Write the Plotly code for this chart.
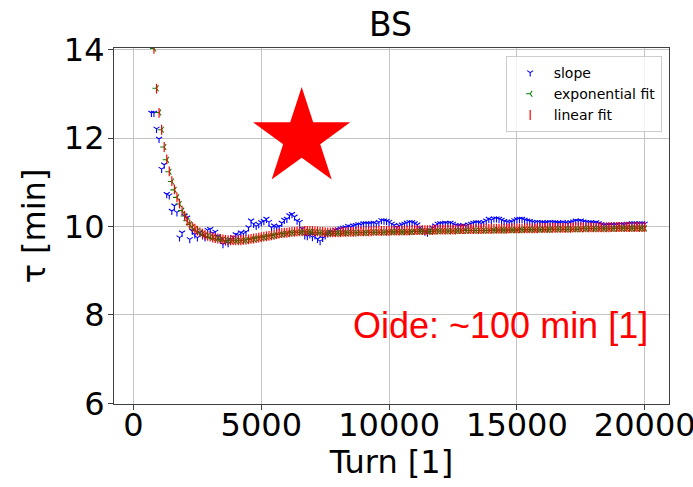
import plotly.graph_objects as go

# Turn numbers of the samples
turns_slope = list(range(700, 20001, 100))
turns_fit = list(range(800, 20001, 100))

# Damping time from the local slope [min]
tau_slope = [
    12.57, 12.57, 12.21, 11.98, 11.30, 11.40, 10.73, 10.70, 10.35, 10.47,
    10.32, 9.75, 9.86, 10.24, 10.20, 9.71, 9.90, 9.82, 9.75, 9.86,
    9.80, 9.75, 9.92, 9.94, 9.85, 9.88, 9.78, 9.70, 9.60, 9.66,
    9.62, 9.70, 9.76, 9.82, 9.80, 9.86, 9.84, 9.88, 9.98, 10.13,
    10.06, 10.01, 10.05, 10.09, 10.12, 10.17, 10.10, 9.98, 10.02, 9.98,
    10.00, 10.08, 10.15, 10.17, 10.25, 10.28, 10.22, 10.13, 10.10, 9.95,
    9.80, 9.78, 9.82, 9.76, 9.80, 9.72, 9.67, 9.74, 9.80, 9.84,
    9.88, 9.87, 9.92, 9.93, 9.95, 9.97, 9.98, 10.01, 9.99, 10.02,
    10.03, 10.05, 10.04, 10.07, 10.07, 10.06, 10.07, 10.08, 10.06, 10.10,
    10.14, 10.13, 10.12, 10.10, 10.06, 10.03, 9.98, 10.02, 10.04, 10.06,
    10.08, 10.10, 10.09, 10.07, 10.04, 9.97, 9.92, 9.88, 9.86, 9.92,
    9.97, 10.02, 10.06, 10.07, 10.07, 10.08, 10.07, 10.08, 10.06, 10.03,
    10.02, 10.01, 10.03, 10.01, 10.04, 10.06, 10.08, 10.09, 10.09, 10.07,
    10.10, 10.13, 10.17, 10.15, 10.18, 10.18, 10.17, 10.15, 10.12, 10.10,
    10.09, 10.11, 10.14, 10.16, 10.17, 10.17, 10.15, 10.13, 10.12, 10.10,
    10.09, 10.10, 10.09, 10.09, 10.08, 10.09, 10.10, 10.09, 10.09, 10.08,
    10.08, 10.10, 10.08, 10.07, 10.09, 10.11, 10.13, 10.12, 10.13, 10.11,
    10.10, 10.09, 10.09, 10.08, 10.09, 10.07, 10.05, 10.03, 10.03, 10.04,
    10.04, 10.03, 10.04, 10.05, 10.05, 10.04, 10.06, 10.06, 10.07, 10.07,
    10.05, 10.07, 10.07, 10.06,
]

# Damping time from the exponential fit [min]
tau_exp = [
    14.03, 13.13, 12.58, 12.19, 11.80, 11.51, 11.24, 11.02, 10.83, 10.66,
    10.51, 10.36, 10.24, 10.13, 10.05, 9.99, 9.94, 9.90, 9.86, 9.83,
    9.80, 9.78, 9.76, 9.74, 9.73, 9.72, 9.71, 9.70, 9.69, 9.68,
    9.68, 9.68, 9.68, 9.68, 9.68, 9.69, 9.69, 9.70, 9.71, 9.72,
    9.73, 9.74, 9.75, 9.76, 9.77, 9.78, 9.79, 9.80, 9.81, 9.82,
    9.83, 9.84, 9.84, 9.85, 9.86, 9.86, 9.87, 9.87, 9.87, 9.88,
    9.88, 9.88, 9.88, 9.87, 9.87, 9.86, 9.86, 9.85, 9.85, 9.85,
    9.85, 9.85, 9.85, 9.85, 9.85, 9.85, 9.86, 9.86, 9.86, 9.86,
    9.86, 9.86, 9.86, 9.86, 9.87, 9.87, 9.87, 9.87, 9.87, 9.87,
    9.87, 9.87, 9.88, 9.88, 9.88, 9.88, 9.88, 9.88, 9.88, 9.88,
    9.88, 9.88, 9.89, 9.89, 9.89, 9.89, 9.89, 9.89, 9.89, 9.89,
    9.89, 9.90, 9.90, 9.90, 9.90, 9.90, 9.90, 9.90, 9.90, 9.90,
    9.90, 9.90, 9.91, 9.91, 9.91, 9.91, 9.91, 9.91, 9.91, 9.91,
    9.91, 9.91, 9.91, 9.92, 9.92, 9.92, 9.92, 9.92, 9.92, 9.92,
    9.92, 9.92, 9.92, 9.92, 9.93, 9.93, 9.93, 9.93, 9.93, 9.93,
    9.93, 9.93, 9.93, 9.93, 9.93, 9.93, 9.94, 9.94, 9.94, 9.94,
    9.94, 9.94, 9.94, 9.94, 9.94, 9.94, 9.94, 9.94, 9.95, 9.95,
    9.95, 9.95, 9.95, 9.95, 9.95, 9.95, 9.95, 9.95, 9.95, 9.95,
    9.95, 9.96, 9.96, 9.96, 9.96, 9.96, 9.96, 9.96, 9.96, 9.96,
    9.96, 9.96, 9.96,
]

# Damping time from the linear fit [min]
tau_lin = [
    14.02, 13.12, 12.57, 12.19, 11.80, 11.52, 11.25, 11.03, 10.84, 10.66,
    10.52, 10.36, 10.24, 10.13, 10.05, 9.99, 9.95, 9.91, 9.87, 9.84,
    9.81, 9.79, 9.77, 9.75, 9.74, 9.73, 9.72, 9.71, 9.70, 9.69,
    9.69, 9.69, 9.69, 9.69, 9.69, 9.70, 9.70, 9.71, 9.72, 9.73,
    9.74, 9.75, 9.76, 9.77, 9.78, 9.79, 9.80, 9.81, 9.83, 9.84,
    9.85, 9.86, 9.86, 9.87, 9.88, 9.88, 9.89, 9.89, 9.89, 9.90,
    9.90, 9.90, 9.90, 9.89, 9.89, 9.88, 9.88, 9.87, 9.87, 9.87,
    9.87, 9.87, 9.87, 9.87, 9.88, 9.88, 9.88, 9.88, 9.88, 9.88,
    9.89, 9.89, 9.89, 9.89, 9.89, 9.89, 9.90, 9.90, 9.90, 9.90,
    9.90, 9.90, 9.90, 9.91, 9.91, 9.91, 9.91, 9.91, 9.91, 9.91,
    9.91, 9.92, 9.92, 9.92, 9.92, 9.92, 9.92, 9.92, 9.92, 9.92,
    9.93, 9.93, 9.93, 9.93, 9.93, 9.93, 9.93, 9.93, 9.93, 9.94,
    9.94, 9.94, 9.94, 9.94, 9.94, 9.94, 9.94, 9.94, 9.94, 9.95,
    9.95, 9.95, 9.95, 9.95, 9.95, 9.95, 9.95, 9.95, 9.95, 9.96,
    9.96, 9.96, 9.96, 9.96, 9.96, 9.96, 9.96, 9.96, 9.96, 9.96,
    9.96, 9.97, 9.97, 9.97, 9.97, 9.97, 9.97, 9.97, 9.97, 9.97,
    9.97, 9.97, 9.97, 9.97, 9.98, 9.98, 9.98, 9.98, 9.98, 9.98,
    9.98, 9.98, 9.98, 9.98, 9.98, 9.98, 9.98, 9.98, 9.98, 9.99,
    9.99, 9.99, 9.99, 9.99, 9.99, 9.99, 9.99, 9.99, 9.99, 9.99,
    9.99, 9.99, 9.99,
]

# Highlight marker and reference note
star_x = [6580]
star_y = [12.0]
note_text = "Oide: ~100 min [1]"
note_x = 14340
note_y = 7.76

x_ticks = [0, 5000, 10000, 15000, 20000]
x_tick_text = ["0", "5000", "10000", "15000", "20000"]
y_ticks = [6, 8, 10, 12, 14]
y_tick_text = ["6", "8", "10", "12", "14"]

fig = go.Figure()

fig.add_trace(go.Scatter(
    x=turns_slope, y=tau_slope, mode="markers", name="slope",
    marker=dict(symbol="y-down", size=5, color="blue",
                line=dict(color="blue", width=1.1)),
))
fig.add_trace(go.Scatter(
    x=turns_fit, y=tau_exp, mode="markers", name="exponential fit",
    marker=dict(symbol="y-left", size=5, color="green",
                line=dict(color="green", width=1.1)),
))
fig.add_trace(go.Scatter(
    x=turns_fit, y=tau_lin, mode="markers", name="linear fit",
    marker=dict(symbol="line-ns", size=7, color="red",
                line=dict(color="red", width=1.2)),
))
fig.add_trace(go.Scatter(
    x=star_x, y=star_y, mode="markers", showlegend=False,
    marker=dict(symbol="star", size=73, color="red", line=dict(width=0)),
))

fig.add_annotation(
    x=note_x, y=note_y, xref="x", yref="y", text=note_text, showarrow=False,
    xanchor="center", yanchor="middle",
    font=dict(family="Liberation Sans", size=36, color="red"),
)

axis_common = dict(
    showgrid=True, gridcolor="#c4c4c4", gridwidth=1.2,
    showline=True, linecolor="#404040", linewidth=1.2, mirror=True,
    ticks="outside", ticklen=5, tickwidth=1.2, tickcolor="#404040",
    tickfont=dict(family="DejaVu Sans", size=32, color="black"),
    zeroline=False, automargin=False, ticklabeloverflow="allow",
)

fig.update_layout(
    width=693, height=487,
    margin=dict(l=114, r=24, t=48, b=83),
    paper_bgcolor="white", plot_bgcolor="white",
    title=dict(text="BS", x=0.5635, xanchor="center", y=1 - 24.5 / 487,
               yanchor="middle",
               font=dict(family="DejaVu Sans", size=33, color="black")),
    xaxis=dict(range=[-763, 20950], tickvals=x_ticks, ticktext=x_tick_text,
               ticklabelstandoff=-13,
               title=dict(text="Turn [1]", standoff=4,
                          font=dict(family="DejaVu Sans", size=32, color="black")),
               **axis_common),
    yaxis=dict(range=[5.985, 14.04], tickvals=y_ticks, ticktext=y_tick_text,
               ticklabelstandoff=-3,
               title=dict(text="τ [min]", standoff=8,
                          font=dict(family="DejaVu Sans", size=32, color="black")),
               **axis_common),
    legend=dict(x=0.9868, y=0.9775, xanchor="right", yanchor="top",
                bgcolor="rgba(255,255,255,0.8)", bordercolor="#cccccc",
                borderwidth=1, itemwidth=37,
                font=dict(family="DejaVu Sans", size=14, color="black")),
    showlegend=True,
)

fig.write_html("out.html")
